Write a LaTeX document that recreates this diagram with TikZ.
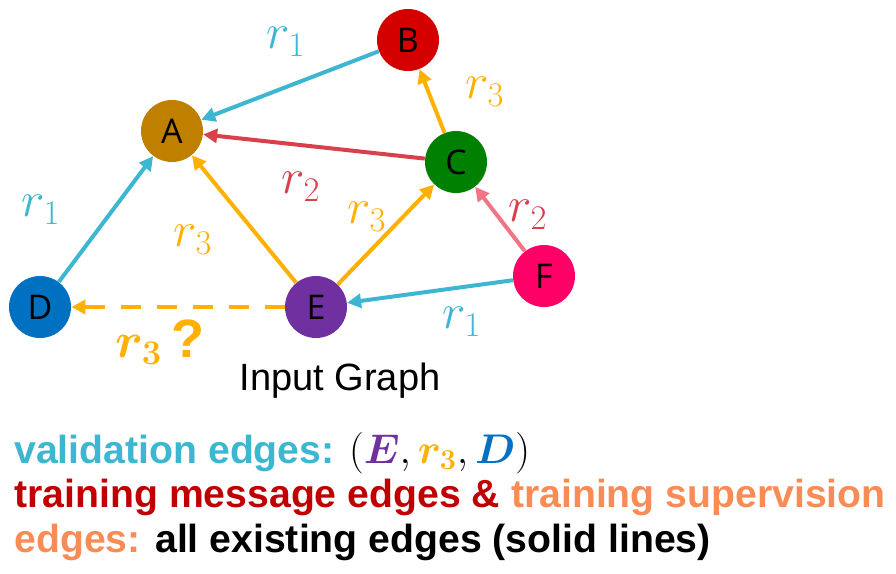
\documentclass[tikz,border=0pt]{standalone}
\usepackage{fontspec}
\usepackage{bm}
\setsansfont{Liberation Sans}
\newfontfamily\nodefont{Open Sans}
\usetikzlibrary{arrows.meta,positioning}
\definecolor{nodeA}{HTML}{BF8000}
\definecolor{nodeB}{HTML}{D40000}
\definecolor{nodeC}{HTML}{008000}
\definecolor{nodeD}{HTML}{0070C0}
\definecolor{nodeE}{HTML}{7030A0}
\definecolor{nodeF}{HTML}{FF0066}
\definecolor{rone}{HTML}{3DB7D1}
\definecolor{rthree}{HTML}{FFB000}
\definecolor{rtwo}{HTML}{D8404C}
\definecolor{rtwopink}{HTML}{F07585}
\definecolor{legred}{HTML}{C00000}
\definecolor{legorange}{HTML}{F98B55}

\begin{document}
\begin{tikzpicture}[x=0.5pt,y=-0.5pt,
  ent/.style={circle,inner sep=0pt,minimum size=31pt,font=\nodefont\fontsize{17}{17}\selectfont},
  rel/.style={-{Triangle[length=7pt,width=7pt]},line width=2pt},
  lbl/.style={font=\fontsize{27}{27}\selectfont,inner sep=0pt},
  leg/.style={anchor=base west,inner sep=0pt,font=\sffamily\bfseries\fontsize{19.6}{22}\selectfont}]
\useasboundingbox (0,0) rectangle (896,574);
% entities
\node[ent,fill=nodeA](A) at (172,131){A};
\node[ent,fill=nodeB](B) at (408,40){B};
\node[ent,fill=nodeC](C) at (456,162){C};
\node[ent,fill=nodeD](D) at (40,307){D};
\node[ent,fill=nodeE](E) at (316,307){E};
\node[ent,fill=nodeF](F) at (544,276){F};
% relations
\draw[rel,rone](B)--(A);
\draw[rel,rthree](C)--(B);
\draw[rel,rtwo](C)--(A);
\draw[rel,rone](D)--(A);
\draw[rel,rthree](E)--(A);
\draw[rel,rthree](E)--(C);
\draw[rel,rtwopink](F)--(C);
\draw[rel,rone](F)--(E);
\draw[rel,rthree,dash pattern=on 10pt off 8pt](E)--(D);
% relation labels
\node[lbl,rone](lBA) at (286,42){$r_1$};
\node[lbl,rthree](lCB) at (485,92){$r_3$};
\node[lbl,rtwo](lCA) at (301,187){$r_2$};
\node[lbl,rone](lDA) at (41,210){$r_1$};
\node[lbl,rthree](lEA) at (193,240){$r_3$};
\node[lbl,rthree](lEC) at (367,217){$r_3$};
\node[lbl,rtwo](lFC) at (528,215){$r_2$};
\node[lbl,rone](lFE) at (462,322){$r_1$};
\node[lbl,rthree](lED) at (160,342){$\bm{r_3}$\,\sffamily\bfseries ?};
\node[font=\sffamily\fontsize{19}{19}\selectfont](title) at (340,381){Input Graph};
% legend
\node[leg](val) at (14,463){\color{rone}validation edges: \color{black}$(\textcolor{nodeE}{\bm{E}},\textcolor{rthree}{\bm{r_3}},\textcolor{nodeD}{\bm{D}})$};
\node[leg](trn) at (14,507){\color{legred}training message edges \& \color{legorange}training supervision};
\node[leg](sup) at (14,552){\color{legorange}edges: \color{black}all existing edges (solid lines)};
\end{tikzpicture}
\end{document}
